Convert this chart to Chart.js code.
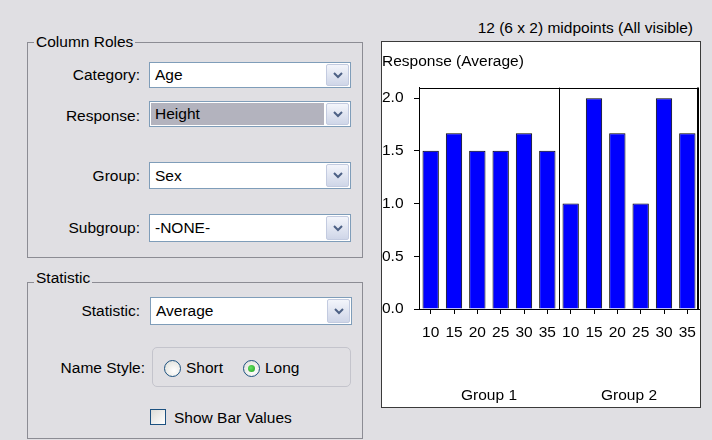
<!DOCTYPE html>
<html><head><meta charset="utf-8">
<script src="https://cdn.jsdelivr.net/npm/chart.js@4.4.1/dist/chart.umd.min.js"></script>
<style>
html,body{margin:0;padding:0;}
body{width:712px;height:440px;background:#e0dfe3;position:relative;overflow:hidden;font-family:"Liberation Sans",Arial,sans-serif;font-size:15.5px;color:#000;}
.gb{position:absolute;border:1px solid #8c8c94;box-sizing:border-box;}
.gbt{position:absolute;background:#e0dfe3;padding:0 2px;line-height:18px;white-space:nowrap;}
.lbl{position:absolute;left:0;text-align:right;line-height:18px;white-space:nowrap;}
.combo{position:absolute;box-sizing:border-box;border:1px solid #7f9db9;background:#fff;}
.combo .val{position:absolute;left:1px;top:1px;bottom:1px;right:26px;padding-left:4px;display:flex;align-items:center;white-space:nowrap;}
.combo .btn{position:absolute;right:1px;top:1px;bottom:1px;width:23px;border:1px solid #c3cbe0;border-radius:2px;background:linear-gradient(#f3f5fb,#cfd6e8);box-sizing:border-box;display:flex;align-items:center;justify-content:center;}
.txt{position:absolute;line-height:18px;white-space:nowrap;}
.radio{position:absolute;width:15px;height:15px;border:1px solid #1c5180;border-radius:50%;background:radial-gradient(circle at 60% 65%,#ffffff,#dcdcd6);}
.dot{position:absolute;left:4px;top:4px;width:7px;height:7px;border-radius:50%;background:radial-gradient(circle at 40% 40%,#62e262,#21a121);}
.chk{position:absolute;width:16px;height:16px;border:1px solid #1c5180;background:linear-gradient(135deg,#dcdcd7,#ffffff);box-sizing:border-box;}
#box{position:absolute;left:381px;top:41px;width:320px;height:367px;box-sizing:border-box;border:1px solid #3a3a3a;background:#fff;}
#chart{position:absolute;left:0;top:0;}
</style>
</head><body>

<!-- Column Roles group -->
<div class="gb" style="left:27px;top:42px;width:336px;height:216px;"></div>
<div class="gbt" style="left:34px;top:33px;">Column Roles</div>

<div class="lbl" style="width:140px;top:66px;">Category:</div>
<div class="combo" style="left:149px;top:62px;width:202px;height:26px;"><div class="val">Age</div><div class="btn"><svg width="10" height="7"><polyline points="1,1 5,5 9,1" fill="none" stroke="#4d6185" stroke-width="2"/></svg></div></div>

<div class="lbl" style="width:140px;top:107px;">Response:</div>
<div class="combo" style="left:149px;top:101px;width:202px;height:26px;"><div class="val" style="background:#b3b3be;">Height</div><div class="btn"><svg width="10" height="7"><polyline points="1,1 5,5 9,1" fill="none" stroke="#4d6185" stroke-width="2"/></svg></div></div>

<div class="lbl" style="width:140px;top:167px;">Group:</div>
<div class="combo" style="left:149px;top:162px;width:202px;height:27px;"><div class="val">Sex</div><div class="btn"><svg width="10" height="7"><polyline points="1,1 5,5 9,1" fill="none" stroke="#4d6185" stroke-width="2"/></svg></div></div>

<div class="lbl" style="width:140px;top:219px;">Subgroup:</div>
<div class="combo" style="left:149px;top:214px;width:202px;height:28px;"><div class="val">-NONE-</div><div class="btn"><svg width="10" height="7"><polyline points="1,1 5,5 9,1" fill="none" stroke="#4d6185" stroke-width="2"/></svg></div></div>

<!-- Statistic group -->
<div class="gb" style="left:27px;top:282px;width:336px;height:157px;"></div>
<div class="gbt" style="left:34px;top:269px;">Statistic</div>

<div class="lbl" style="width:140px;top:302px;">Statistic:</div>
<div class="combo" style="left:150px;top:297px;width:202px;height:28px;"><div class="val">Average</div><div class="btn"><svg width="10" height="7"><polyline points="1,1 5,5 9,1" fill="none" stroke="#4d6185" stroke-width="2"/></svg></div></div>

<div class="lbl" style="width:145px;top:359px;">Name Style:</div>
<div style="position:absolute;left:152px;top:347px;width:199px;height:40px;box-sizing:border-box;border:1px solid #c4c4cc;border-radius:5px;"></div>
<div class="radio" style="left:164px;top:360px;"></div>
<div class="txt" style="left:186px;top:359px;">Short</div>
<div class="radio" style="left:243px;top:360px;"><div class="dot"></div></div>
<div class="txt" style="left:265px;top:359px;">Long</div>

<div class="chk" style="left:150px;top:409px;"></div>
<div class="txt" style="left:174px;top:409px;">Show Bar Values</div>

<!-- Chart -->
<div class="txt" style="right:19px;top:19px;">12 (6 x 2) midpoints (All visible)</div>
<div id="box"><canvas id="chart" width="318" height="365"></canvas></div>

<script>
const categories = ['10','15','20','25','30','35','10','15','20','25','30','35'];
const groups = ['Group 1','Group 2'];
const group1Values = [1.5, 1.667, 1.5, 1.5, 1.667, 1.5];
const group2Values = [1.0, 2.0, 1.667, 1.0, 2.0, 1.667];
const yTickLabels = ['0.0','0.5','1.0','1.5','2.0'];
const responseTitle = 'Response (Average)';

const values = group1Values.concat(group2Values);

Chart.defaults.font.family = '"Liberation Sans", Arial, sans-serif';
Chart.defaults.font.size = 15.5;
Chart.defaults.color = '#000';

const framePlugin = {
  id: 'frame',
  afterDatasetsDraw(chart) {
    const {ctx, chartArea: a, scales: {x}} = chart;
    const n = group1Values.length;
    const sep = Math.round((x.getPixelForValue(n - 1) + x.getPixelForValue(n)) / 2) + 0.5;
    ctx.save();
    ctx.strokeStyle = '#000';
    ctx.lineWidth = 1;
    ctx.beginPath();
    ctx.moveTo(a.left, Math.round(a.top) + 0.5);
    ctx.lineTo(a.right, Math.round(a.top) + 0.5);
    ctx.moveTo(sep, a.top);
    ctx.lineTo(sep, a.bottom);
    ctx.stroke();
    ctx.lineWidth = 2;
    ctx.beginPath();
    ctx.moveTo(Math.round(a.right) - 1, a.top);
    ctx.lineTo(Math.round(a.right) - 1, a.bottom);
    ctx.stroke();
    ctx.restore();
  }
};

function fixHorizontal(h) {
  return function (s) { s.height = h; s.paddingLeft = 0; s.paddingRight = 0; };
}

new Chart(document.getElementById('chart'), {
  type: 'bar',
  data: {
    labels: categories,
    datasets: [{
      data: values,
      backgroundColor: '#0000ff',
      borderColor: '#000',
      borderWidth: 1,
      barPercentage: 0.7,
      categoryPercentage: 1.0
    }]
  },
  options: {
    responsive: false,
    animation: false,
    devicePixelRatio: 1,
    layout: {padding: {left: 0, right: 1, top: 0, bottom: 3}},
    plugins: {
      legend: {display: false},
      tooltip: {enabled: false},
      title: {
        display: true,
        text: responseTitle,
        align: 'start',
        color: '#000',
        font: {size: 15.5, weight: 'normal'},
        padding: {top: 10, bottom: 17}
      }
    },
    scales: {
      x: {
        position: 'bottom',
        weight: 0,
        offset: true,
        grid: {offset: false, drawOnChartArea: false, tickLength: 5, color: '#000'},
        border: {display: true, color: '#000'},
        ticks: {padding: 9, maxRotation: 0, autoSkip: false, color: '#000'},
        afterFit: fixHorizontal(33)
      },
      x2: {
        type: 'category',
        labels: groups,
        position: 'bottom',
        weight: 1,
        offset: true,
        grid: {display: false, drawTicks: false},
        border: {display: false},
        ticks: {padding: 44, maxRotation: 0, color: '#000'},
        afterFit: fixHorizontal(62)
      },
      y: {
        min: 0,
        max: 2.1,
        grid: {drawOnChartArea: false, tickLength: 5, color: '#000'},
        border: {display: true, color: '#000'},
        ticks: {
          stepSize: 0.5,
          includeBounds: false,
          crossAlign: 'far',
          color: '#000',
          callback: (v, i) => yTickLabels[i]
        },
        afterFit(scale) { scale.width = 37; }
      }
    }
  },
  plugins: [framePlugin]
});
</script>
</body></html>
